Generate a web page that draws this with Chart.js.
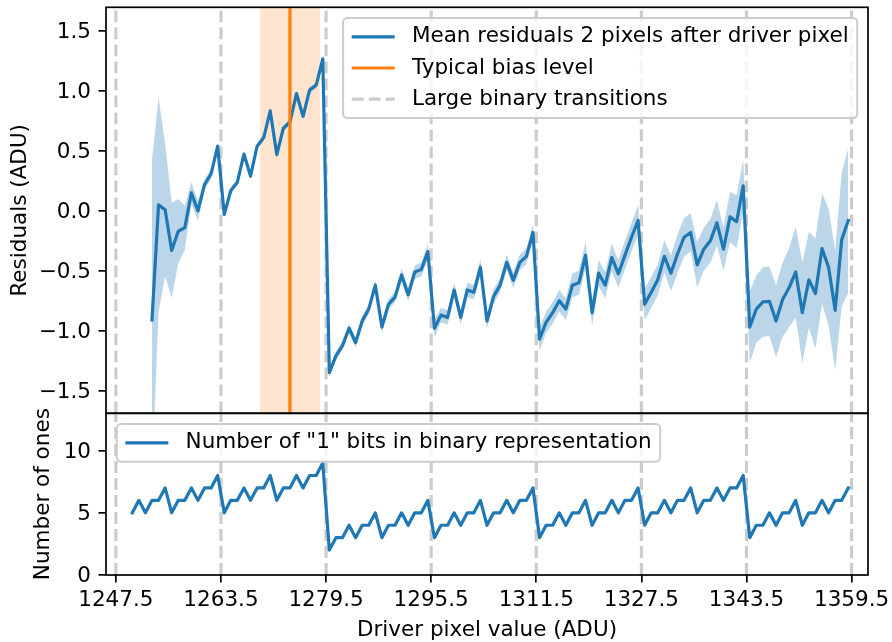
<!DOCTYPE html>
<html>
<head>
<meta charset="utf-8">
<script src="https://cdn.jsdelivr.net/npm/chart.js@4.4.0/dist/chart.umd.min.js"></script>
<style>
    html, body { margin: 0; padding: 0; background: #fff; }
    #figura { position: relative; width: 892px; height: 642px; background: #fff; }
    #graficaResiduos { position: absolute; left: 0; top: 0; }
    #graficaUnos { position: absolute; left: 0; top: 400px; }
</style>
</head>
<body>
<div id="figura">
    <canvas id="graficaResiduos" width="892" height="420"></canvas>
    <canvas id="graficaUnos" width="892" height="242"></canvas>
</div>
<script>
// Valores del pixel conductor (ADU)
var pixelConductor = [
    1250, 1251, 1252, 1253, 1254, 1255, 1256, 1257, 1258, 1259,
    1260, 1261, 1262, 1263, 1264, 1265, 1266, 1267, 1268, 1269,
    1270, 1271, 1272, 1273, 1274, 1275, 1276, 1277, 1278, 1279,
    1280, 1281, 1282, 1283, 1284, 1285, 1286, 1287, 1288, 1289,
    1290, 1291, 1292, 1293, 1294, 1295, 1296, 1297, 1298, 1299,
    1300, 1301, 1302, 1303, 1304, 1305, 1306, 1307, 1308, 1309,
    1310, 1311, 1312, 1313, 1314, 1315, 1316, 1317, 1318, 1319,
    1320, 1321, 1322, 1323, 1324, 1325, 1326, 1327, 1328, 1329,
    1330, 1331, 1332, 1333, 1334, 1335, 1336, 1337, 1338, 1339,
    1340, 1341, 1342, 1343, 1344, 1345, 1346, 1347, 1348, 1349,
    1350, 1351, 1352, 1353, 1354, 1355, 1356, 1357, 1358, 1359
];

// Residuo medio 2 pixeles despues del conductor (ADU)
var residuoMedio = [
    null, null, null, -0.91, 0.05, 0.01, -0.33, -0.17, -0.14, 0.15,
    0.00, 0.22, 0.31, 0.54,
    -0.03, 0.17, 0.24, 0.475, 0.29, 0.54, 0.61, 0.835, 0.47, 0.69, 0.74, 0.98, 0.79, 1.01, 1.05, 1.27,
    -1.35, -1.21, -1.125, -0.98, -1.10, -0.92, -0.82, -0.62, -0.97, -0.78, -0.72, -0.535, -0.70, -0.51, -0.49, -0.34,
    -0.98, -0.87, -0.89, -0.66, -0.89, -0.66, -0.68, -0.47, -0.92, -0.715, -0.62, -0.43, -0.58, -0.43, -0.38, -0.18,
    -1.07, -0.93, -0.85, -0.75, -0.82, -0.62, -0.60, -0.37, -0.85, -0.52, -0.62, -0.39, -0.525, -0.37, -0.22, -0.08,
    -0.78, -0.68, -0.575, -0.38, -0.52, -0.36, -0.22, -0.18, -0.45, -0.32, -0.25, -0.10, -0.32, -0.05, -0.09, 0.21,
    -0.97, -0.82, -0.76, -0.755, -0.92, -0.74, -0.64, -0.51, -0.85, -0.575, -0.69, -0.315, -0.47, -0.83, -0.24, -0.08
];

// Incertidumbre del residuo (banda sombreada)
var residuoError = [
    null, null, null, 1.33, 0.895, 0.555, 0.395, 0.27, 0.185, 0.09,
    0.085, 0.04, 0.045, 0.03,
    0.025, 0.025, 0.025, 0.025, 0.025, 0.025, 0.025, 0.025, 0.025, 0.025, 0.025, 0.025, 0.025, 0.025, 0.025, 0.025,
    0.035, 0.035, 0.035, 0.04, 0.04, 0.04, 0.04, 0.04, 0.05, 0.045, 0.045, 0.055, 0.055, 0.055, 0.06, 0.065,
    0.075, 0.06, 0.06, 0.06, 0.06, 0.06, 0.06, 0.065, 0.065, 0.06, 0.06, 0.065, 0.065, 0.065, 0.065, 0.07,
    0.10, 0.09, 0.09, 0.09, 0.09, 0.10, 0.10, 0.11, 0.105, 0.11, 0.11, 0.115, 0.115, 0.12, 0.12, 0.125,
    0.13, 0.13, 0.13, 0.135, 0.15, 0.16, 0.16, 0.16, 0.19, 0.18, 0.18, 0.19, 0.18, 0.21, 0.22, 0.22,
    0.30, 0.28, 0.29, 0.29, 0.30, 0.31, 0.33, 0.38, 0.42, 0.40, 0.46, 0.46, 0.49, 0.50, 0.56, 0.60
];

// Numero de bits "1" en la representacion binaria
var numeroUnos = [
    5, 6, 5, 6, 6, 7, 5, 6, 6, 7, 6, 7, 7, 8,
    5, 6, 6, 7, 6, 7, 7, 8, 6, 7, 7, 8, 7, 8, 8, 9,
    2, 3, 3, 4, 3, 4, 4, 5, 3, 4, 4, 5, 4, 5, 5, 6,
    3, 4, 4, 5, 4, 5, 5, 6, 4, 5, 5, 6, 5, 6, 6, 7,
    3, 4, 4, 5, 4, 5, 5, 6, 4, 5, 5, 6, 5, 6, 6, 7,
    4, 5, 5, 6, 5, 6, 6, 7, 5, 6, 6, 7, 6, 7, 7, 8,
    3, 4, 4, 5, 4, 5, 5, 6, 4, 5, 5, 6, 5, 6, 6, 7
];

// Grandes transiciones binarias y nivel tipico de bias
var transiciones = [1247.5, 1263.5, 1279.5, 1295.5, 1311.5, 1327.5, 1343.5, 1359.5];
var nivelBias = 1274;
var rangoBias = [1269.4, 1278.6];

// Ticks y limites de los ejes
var ticksPixel = [1247.5, 1263.5, 1279.5, 1295.5, 1311.5, 1327.5, 1343.5, 1359.5];
var ticksResiduo = [-1.5, -1.0, -0.5, 0.0, 0.5, 1.0, 1.5];
var ticksUnos = [0, 5, 10];
var limitesPixel = [1246, 1362];
var limitesResiduo = [-1.69, 1.70];
var limitesUnos = [0, 13];

var AZUL = '#1f77b4';
var NARANJA = '#ff7f0e';
var GRIS = '#cccccc';
var TAM = 21.5;

Chart.defaults.font.family = '"DejaVu Sans"';
Chart.defaults.font.size = TAM;
Chart.defaults.color = '#000';

function puntos(xs, ys) {
    var res = [];
    for (var i = 0; i < xs.length; i++) {
        if (ys[i] !== null) {
            res.push({ x: xs[i], y: ys[i] });
        }
    }
    return res;
}

function sumar(a, b, signo) {
    return a.map(function (v, i) {
        return v === null ? null : v + signo * b[i];
    });
}

function lineasTransicion(yMin, yMax) {
    return transiciones.map(function (t) {
        return {
            data: [{ x: t, y: yMin }, { x: t, y: yMax }],
            borderColor: GRIS,
            borderWidth: 3.2,
            borderDash: [11.9, 5.1],
            pointRadius: 0,
            fill: false,
            order: 3
        };
    });
}

function ejeY(limites, ticks, titulo, padTitulo, formato) {
    return {
        min: limites[0],
        max: limites[1],
        afterBuildTicks: function (scale) {
            scale.ticks = ticks.map(function (v) { return { value: v }; });
        },
        afterFit: function (scale) {
            scale.width = 106;
            scale.paddingTop = 0;
            scale.paddingBottom = 0;
        },
        ticks: { callback: formato, padding: 7.5, labelOffset: 1.5, color: '#000' },
        grid: { drawOnChartArea: false, drawTicks: true, tickLength: 7.5, color: '#000', lineWidth: 1.7 },
        border: { display: false },
        title: { display: true, text: titulo, color: '#000', padding: { top: padTitulo, bottom: 0 } }
    };
}

// marco negro alrededor del area de la grafica
var marco = {
    id: 'marco',
    afterDatasetsDraw: function (chart) {
        var a = chart.chartArea;
        var ctx = chart.ctx;
        ctx.save();
        ctx.strokeStyle = '#000';
        ctx.lineWidth = 1.7;
        ctx.strokeRect(a.left, a.top, a.right - a.left, a.bottom - a.top);
        ctx.restore();
    }
};

// leyenda dibujada dentro del panel, como en matplotlib
var leyenda = {
    id: 'leyenda',
    afterDraw: function (chart, args, opts) {
        var ctx = chart.ctx;
        var a = chart.chartArea;
        var pad = 0.4 * TAM, mango = 2 * TAM, sep = 0.8 * TAM;
        var fila = 20.4, hueco = 0.5 * TAM, margen = 0.5 * TAM, radio = 0.2 * TAM;
        ctx.save();
        ctx.font = TAM + 'px "DejaVu Sans"';
        var maxW = 0;
        opts.items.forEach(function (it) {
            maxW = Math.max(maxW, ctx.measureText(it.texto).width);
        });
        var w = pad + mango + sep + maxW + pad;
        var h = 2 * pad + opts.items.length * fila + (opts.items.length - 1) * hueco;
        var x0 = opts.lado === 'derecha' ? a.right - margen - w : a.left + margen;
        var y0 = a.top + margen;

        ctx.beginPath();
        ctx.moveTo(x0 + radio, y0);
        ctx.arcTo(x0 + w, y0, x0 + w, y0 + h, radio);
        ctx.arcTo(x0 + w, y0 + h, x0, y0 + h, radio);
        ctx.arcTo(x0, y0 + h, x0, y0, radio);
        ctx.arcTo(x0, y0, x0 + w, y0, radio);
        ctx.closePath();
        ctx.fillStyle = 'rgba(255,255,255,0.8)';
        ctx.fill();
        ctx.strokeStyle = GRIS;
        ctx.lineWidth = 2;
        ctx.stroke();

        opts.items.forEach(function (it, i) {
            var yc = y0 + pad + fila / 2 + i * (fila + hueco);
            ctx.beginPath();
            ctx.setLineDash(it.rayas ? [11.9, 5.1] : []);
            ctx.strokeStyle = it.color;
            ctx.lineWidth = 3.2;
            ctx.moveTo(x0 + pad, yc);
            ctx.lineTo(x0 + pad + mango, yc);
            ctx.stroke();
            ctx.setLineDash([]);
            ctx.fillStyle = '#000';
            ctx.textAlign = 'left';
            ctx.textBaseline = 'middle';
            ctx.fillText(it.texto, x0 + pad + mango + sep, yc);
        });
        ctx.restore();
    }
};

function formatoResiduo(v) {
    return v.toFixed(1).replace('-', '\u2212');
}

function graficaResiduos() {
    var ctx = document.getElementById('graficaResiduos').getContext('2d');
    var superior = sumar(residuoMedio, residuoError, 1);
    var inferior = sumar(residuoMedio, residuoError, -1);

    var datasets = [
        {
            data: [{ x: nivelBias, y: limitesResiduo[0] }, { x: nivelBias, y: limitesResiduo[1] }],
            borderColor: NARANJA, borderWidth: 3.2, pointRadius: 0, fill: false, order: 0
        },
        {
            data: puntos(pixelConductor, residuoMedio),
            borderColor: AZUL, borderWidth: 3.2, borderJoinStyle: 'round', borderCapStyle: 'square',
            pointRadius: 0, fill: false, order: 1
        },
        {
            data: puntos(pixelConductor, superior),
            borderWidth: 0, pointRadius: 0, backgroundColor: 'rgba(31,119,180,0.3)', fill: '+1', order: 5
        },
        {
            data: puntos(pixelConductor, inferior),
            borderWidth: 0, pointRadius: 0, fill: false, order: 5
        },
        {
            data: [{ x: rangoBias[0], y: limitesResiduo[1] }, { x: rangoBias[1], y: limitesResiduo[1] }],
            borderWidth: 0, pointRadius: 0, backgroundColor: 'rgba(255,127,14,0.2)', fill: 'start', order: 10
        }
    ].concat(lineasTransicion(limitesResiduo[0], limitesResiduo[1]));

    new Chart(ctx, {
        type: 'line',
        data: { datasets: datasets },
        plugins: [marco, leyenda],
        options: {
            responsive: false,
            animation: false,
            events: [],
            layout: { padding: { top: 7.3, right: 24, bottom: 6.7, left: 0 } },
            scales: {
                x: { type: 'linear', min: limitesPixel[0], max: limitesPixel[1], display: false },
                y: ejeY(limitesResiduo, ticksResiduo, 'Residuals (ADU)', 8, formatoResiduo)
            },
            plugins: {
                legend: { display: false },
                tooltip: { enabled: false },
                leyenda: {
                    lado: 'derecha',
                    items: [
                        { texto: 'Mean residuals 2 pixels after driver pixel', color: AZUL },
                        { texto: 'Typical bias level', color: NARANJA },
                        { texto: 'Large binary transitions', color: GRIS, rayas: true }
                    ]
                }
            }
        }
    });
}

function graficaUnos() {
    var ctx = document.getElementById('graficaUnos').getContext('2d');
    var datasets = [
        {
            data: puntos(pixelConductor, numeroUnos),
            borderColor: AZUL, borderWidth: 3.2, borderJoinStyle: 'round', borderCapStyle: 'square',
            pointRadius: 0, fill: false, order: 1
        }
    ].concat(lineasTransicion(limitesUnos[0], limitesUnos[1]));

    new Chart(ctx, {
        type: 'line',
        data: { datasets: datasets },
        plugins: [marco, leyenda],
        options: {
            responsive: false,
            animation: false,
            events: [],
            layout: { padding: { top: 13.3, right: 24, bottom: 0, left: 0 } },
            scales: {
                x: {
                    type: 'linear',
                    min: limitesPixel[0],
                    max: limitesPixel[1],
                    afterBuildTicks: function (scale) {
                        scale.ticks = ticksPixel.map(function (v) { return { value: v }; });
                    },
                    afterFit: function (scale) {
                        scale.height = 67;
                        scale.paddingLeft = 0;
                        scale.paddingRight = 0;
                    },
                    ticks: {
                        callback: function (v) { return v.toFixed(1); },
                        padding: 5, maxRotation: 0, autoSkip: false, color: '#000'
                    },
                    grid: { drawOnChartArea: false, drawTicks: true, tickLength: 7.5, color: '#000', lineWidth: 1.7 },
                    border: { display: false },
                    title: {
                        display: true, text: 'Driver pixel value (ADU)', color: '#000',
                        font: { lineHeight: 1.1 }, padding: { top: 0, bottom: 0 }
                    }
                },
                y: ejeY(limitesUnos, ticksUnos, 'Number of ones', 31, function (v) { return String(v); })
            },
            plugins: {
                legend: { display: false },
                tooltip: { enabled: false },
                leyenda: {
                    lado: 'izquierda',
                    items: [
                        { texto: 'Number of "1" bits in binary representation', color: AZUL }
                    ]
                }
            }
        }
    });
}

graficaResiduos();
graficaUnos();
</script>
</body>
</html>
